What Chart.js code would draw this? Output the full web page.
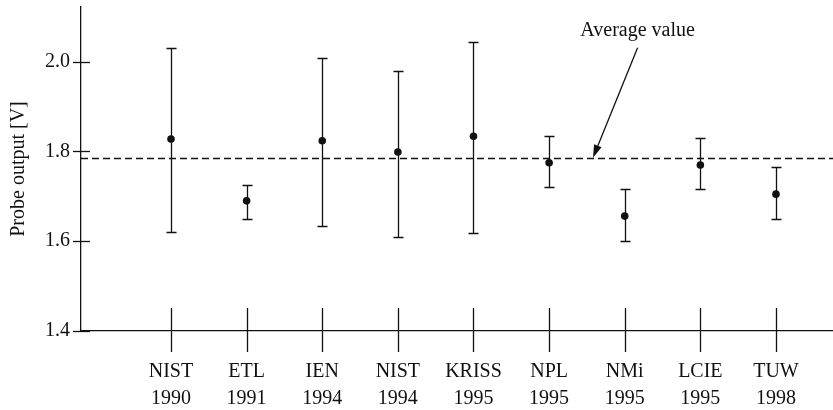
<!DOCTYPE html>
<html>
<head>
<meta charset="utf-8">
<script src="https://cdn.jsdelivr.net/npm/chart.js@4.4.1/dist/chart.umd.min.js"></script>
<style>
  html, body { margin: 0; padding: 0; background: #fff; overflow: hidden; }
  #caja { width: 833px; height: 410px; position: relative; }
</style>
</head>
<body>
<div id="caja"><canvas id="grafico" width="833" height="410"></canvas></div>
<script>
const laboratorios = ['NIST', 'ETL', 'IEN', 'NIST', 'KRISS', 'NPL', 'NMi', 'LCIE', 'TUW'];
const anios = ['1990', '1991', '1994', '1994', '1995', '1995', '1995', '1995', '1998'];
const valores = [1.828, 1.690, 1.824, 1.799, 1.834, 1.775, 1.656, 1.770, 1.705];
const limInf = [1.621, 1.650, 1.633, 1.610, 1.618, 1.720, 1.601, 1.716, 1.650];
const limSup = [2.031, 1.726, 2.008, 1.980, 2.043, 1.835, 1.716, 1.831, 1.766];
const ticksY = [1.4, 1.6, 1.8, 2.0];
const promedio = 1.786;
// nota "Average value": texto y flecha (en unidades de los ejes)
const notaTexto = 'Average value';
const notaX = 6.17, notaY = 2.068;
const flechaDesde = [6.17, 2.031];
const flechaHasta = [5.58, promedio];

const TINTA = '#111';
const FUENTE = "'Liberation Serif', 'Times New Roman', serif";

const trazos = {
  id: 'trazos',
  beforeDatasetsDraw(chart) {
    const ctx = chart.ctx;
    const xs = chart.scales.x, ys = chart.scales.y;
    const area = chart.chartArea;
    ctx.save();
    ctx.strokeStyle = TINTA;
    ctx.lineWidth = 1.3;

    // marcas del eje x (cruzan el eje)
    xs.ticks.forEach((t, i) => {
      const px = Math.round(xs.getPixelForTick(i)) + 0.5;
      ctx.beginPath();
      ctx.moveTo(px, area.bottom - 23);
      ctx.lineTo(px, area.bottom + 21);
      ctx.stroke();
    });
    // marcas del eje y
    ys.ticks.forEach((t, i) => {
      const py = Math.round(ys.getPixelForTick(i)) + 0.5;
      ctx.beginPath();
      ctx.moveTo(area.left - 8, py);
      ctx.lineTo(area.left + 9, py);
      ctx.stroke();
    });

    // linea de promedio
    const pyProm = Math.round(ys.getPixelForValue(promedio)) + 0.5;
    ctx.setLineDash([7, 4]);
    ctx.beginPath();
    ctx.moveTo(area.left, pyProm);
    ctx.lineTo(area.right, pyProm);
    ctx.stroke();
    ctx.setLineDash([]);

    // barras de error
    valores.forEach((v, i) => {
      const px = Math.round(xs.getPixelForValue(i)) + 0.5;
      const y1 = Math.round(ys.getPixelForValue(limSup[i])) + 0.5;
      const y2 = Math.round(ys.getPixelForValue(limInf[i])) + 0.5;
      ctx.beginPath();
      ctx.moveTo(px, y1); ctx.lineTo(px, y2);
      ctx.moveTo(px - 5, y1); ctx.lineTo(px + 5, y1);
      ctx.moveTo(px - 5, y2); ctx.lineTo(px + 5, y2);
      ctx.stroke();
    });
    ctx.restore();
  },
  afterDatasetsDraw(chart) {
    const ctx = chart.ctx;
    const xs = chart.scales.x, ys = chart.scales.y;
    ctx.save();
    ctx.fillStyle = TINTA;
    ctx.strokeStyle = TINTA;
    ctx.font = '20px ' + FUENTE;
    ctx.textAlign = 'center';
    ctx.textBaseline = 'middle';
    ctx.fillText(notaTexto, xs.getPixelForValue(notaX), ys.getPixelForValue(notaY));

    const x0 = xs.getPixelForValue(flechaDesde[0]), y0 = ys.getPixelForValue(flechaDesde[1]);
    const x1 = xs.getPixelForValue(flechaHasta[0]), y1 = ys.getPixelForValue(flechaHasta[1]);
    const ang = Math.atan2(y1 - y0, x1 - x0);
    const largo = 13, ancho = 4;
    const bx = x1 - largo * Math.cos(ang), by = y1 - largo * Math.sin(ang);
    ctx.lineWidth = 1.3;
    ctx.beginPath();
    ctx.moveTo(x0, y0);
    ctx.lineTo(bx, by);
    ctx.stroke();
    ctx.beginPath();
    ctx.moveTo(x1, y1);
    ctx.lineTo(bx + ancho * Math.sin(ang), by - ancho * Math.cos(ang));
    ctx.lineTo(bx - ancho * Math.sin(ang), by + ancho * Math.cos(ang));
    ctx.closePath();
    ctx.fill();
    ctx.restore();
  }
};

const ctx = document.getElementById('grafico').getContext('2d');
new Chart(ctx, {
  type: 'scatter',
  data: {
    datasets: [{
      data: valores.map((v, i) => ({ x: i, y: v })),
      pointRadius: 3.8,
      pointBackgroundColor: TINTA,
      pointBorderWidth: 0,
      showLine: false
    }]
  },
  options: {
    responsive: false,
    animation: false,
    layout: { autoPadding: false, padding: { top: 7, right: 0, bottom: 0, left: 0 } },
    plugins: {
      legend: { display: false },
      tooltip: { enabled: false }
    },
    scales: {
      x: {
        type: 'linear',
        min: -1.19,
        max: 8.754,
        grid: { display: false, drawTicks: false },
        border: { display: true, color: TINTA, width: 1.3 },
        afterBuildTicks: axis => { axis.ticks = laboratorios.map((l, i) => ({ value: i })); },
        afterFit: scale => { scale.height = 79; scale.paddingLeft = 0; scale.paddingRight = 0; },
        ticks: {
          autoSkip: false,
          maxRotation: 0,
          padding: 27,
          color: TINTA,
          font: { family: FUENTE, size: 20, lineHeight: 1.35 },
          callback: (v, i) => [laboratorios[i], anios[i]]
        }
      },
      y: {
        min: 1.4,
        max: 2.122,
        grid: { display: false, drawTicks: false },
        border: { display: true, color: TINTA, width: 1.3 },
        afterBuildTicks: axis => { axis.ticks = ticksY.map(v => ({ value: v })); },
        afterFit: scale => { scale.width = 81; scale.paddingTop = 0; scale.paddingBottom = 0; },
        ticks: {
          padding: 11,
          color: TINTA,
          font: { family: FUENTE, size: 20 },
          callback: v => v.toFixed(1)
        },
        title: {
          display: true,
          text: 'Probe output [V]',
          color: TINTA,
          font: { family: FUENTE, size: 20 },
          padding: { top: 7, bottom: 0 }
        }
      }
    }
  },
  plugins: [trazos]
});
</script>
</body>
</html>
